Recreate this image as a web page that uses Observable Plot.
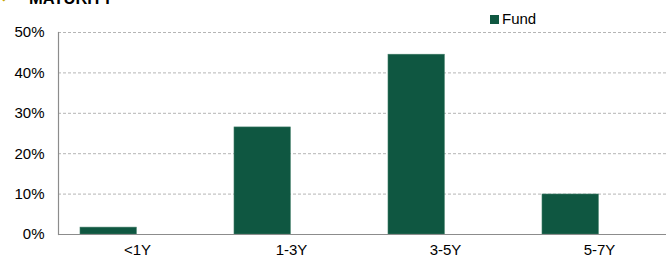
<!DOCTYPE html>
<html>
<head>
<meta charset="utf-8">
<script src="https://cdn.jsdelivr.net/npm/d3@7"></script>
<script src="https://cdn.jsdelivr.net/npm/@observablehq/plot@0.6"></script>
<style>
  html, body { margin: 0; padding: 0; background: #fff; overflow: hidden; }
  #wrap { position: relative; width: 666px; height: 258px; font-family: "Liberation Sans", Arial, sans-serif; }
  #title { position: absolute; left: 0px; top: -13px; font-size: 16.5px; font-weight: bold; color: #000; white-space: nowrap; line-height: 20px; }
  #title .bullet { color: #c9a800; font-size: 10px; margin-right: 21px; vertical-align: 4px; }
  #legend { position: absolute; left: 490px; top: 10px; font-size: 15px; line-height: 18px; color: #000; display: flex; align-items: center; }
  #legend .sw { width: 9px; height: 9px; background: #0f5741; margin-right: 3px; }
  svg { position: absolute; left: 0; top: 0; }
</style>
</head>
<body>
<div id="wrap">
  <div id="title"><span class="bullet">◆</span>MATURITY</div>
  <div id="legend"><span class="sw"></span><span id="legname"></span></div>
</div>
<script>
const categories = ["<1Y", "1-3Y", "3-5Y", "5-7Y"];
const seriesName = "Fund";
const fundValues = [0.017, 0.265, 0.445, 0.099];
const yTicks = [0, 0.1, 0.2, 0.3, 0.4, 0.5];

const data = categories.map((c, i) => ({category: c, value: fundValues[i]}));
document.getElementById("legname").textContent = seriesName;

const chart = Plot.plot({
  width: 666,
  height: 258,
  marginLeft: 58,
  marginRight: -11,
  marginTop: 32,
  marginBottom: 24,
  style: {fontFamily: "Liberation Sans, Arial, sans-serif", fontSize: "15px", color: "#000", background: "transparent", overflow: "visible"},
  x: {domain: categories, padding: 0, label: null},
  y: {domain: [0, 0.5], label: null},
  marks: [
    Plot.gridY(yTicks, {stroke: "#b5b5b5", strokeOpacity: 1, strokeDasharray: "3,2"}),
    Plot.barY(data, {x: "category", y: "value", fill: "#0f5741", stroke: "#3d7a65", strokeWidth: 0.6, insetLeft: 20, insetRight: 77.7}),
    Plot.ruleY([0], {stroke: "#8c8c8c", strokeWidth: 1.2}),
    Plot.frame({anchor: "left", stroke: "#8c8c8c", strokeWidth: 1.2}),
    Plot.axisY(yTicks, {tickSize: 0, tickPadding: 14, tickFormat: d => Math.round(d * 100) + "%", fontSize: 15}),
    Plot.axisX({tickSize: 0, tickPadding: 10, fontSize: 15})
  ]
});
document.getElementById("wrap").prepend(chart);
</script>
</body>
</html>
